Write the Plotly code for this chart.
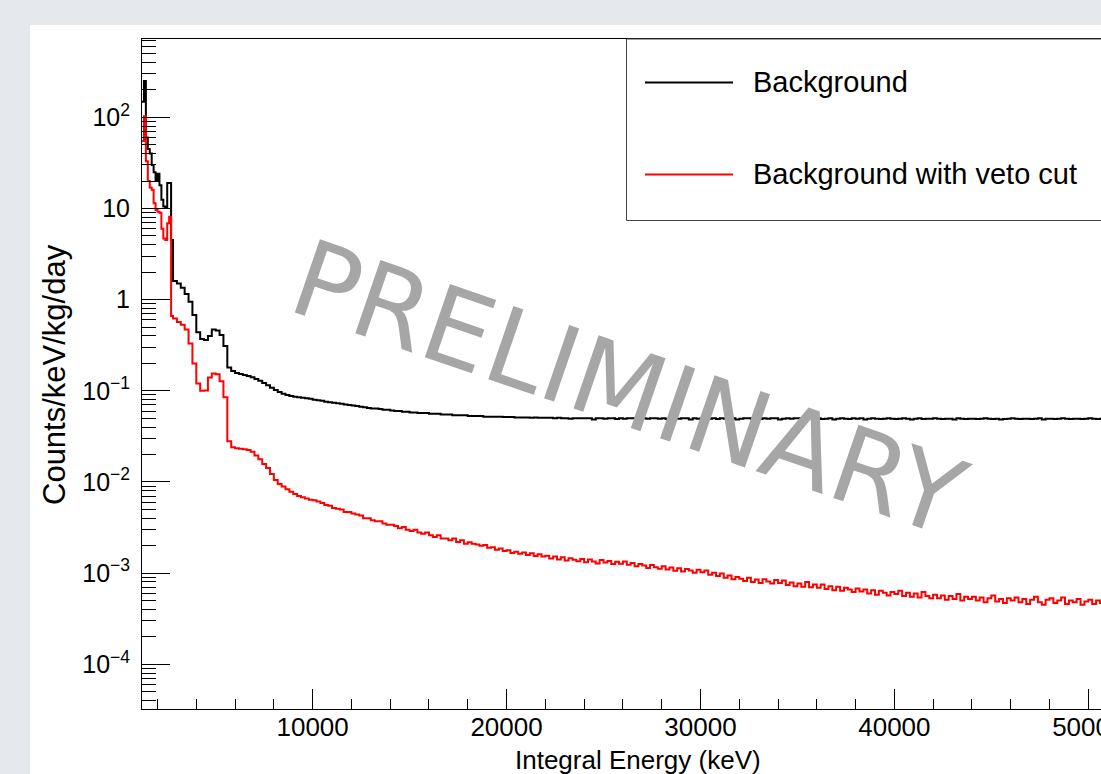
import plotly.graph_objects as go

# ---------------- histogram binning (keV, low edge of every bin) ----------------
fine_edges = list(range(1200, 2800, 100))     # 100 keV bins
mid_edges = list(range(2800, 10000, 200))     # 200 keV bins
tail_edges = list(range(10000, 50800, 200))   # 200 keV bins
upper_edge = 50800

# ---------------- Background (counts/keV/kg/day) ----------------
bkg_fine = [148, 250, 60, 45, 40, 30, 25, 20, 24, 18, 12.5, 10.5, 10.4, 19, 19, 4.5]
bkg_mid = [1.6, 1.5, 1.35, 1.15, 0.95, 0.68, 0.44, 0.37, 0.36, 0.40,
           0.47, 0.46, 0.41, 0.31, 0.18, 0.165, 0.157, 0.153, 0.149, 0.145,
           0.141, 0.135, 0.129, 0.122, 0.115, 0.108, 0.102, 0.097, 0.093, 0.090,
           0.088, 0.086, 0.085, 0.084, 0.083, 0.082]
bkg_tail = [0.080, 0.079, 0.078, 0.076, 0.075, 0.074, 0.073, 0.072, 0.071, 0.070,
            0.069, 0.068, 0.067, 0.066, 0.065, 0.064, 0.064, 0.063, 0.062, 0.062,
            0.061, 0.060, 0.060, 0.059, 0.059, 0.058, 0.058, 0.057, 0.057, 0.057,
            0.056, 0.056, 0.056, 0.055, 0.055, 0.055, 0.054, 0.054, 0.054, 0.054,
            0.053, 0.053, 0.053, 0.053, 0.052, 0.052, 0.052, 0.052, 0.052, 0.0515,
            0.0515, 0.0515, 0.051, 0.051, 0.051, 0.051, 0.0505, 0.051, 0.0505, 0.0505,
            0.0505, 0.0505, 0.050, 0.0505, 0.050, 0.050, 0.0495, 0.050, 0.050, 0.050,
            0.050, 0.050, 0.0485, 0.050, 0.050, 0.0495, 0.050, 0.050, 0.049, 0.050,
            0.0495, 0.050, 0.050, 0.050, 0.0485, 0.050, 0.0495, 0.050, 0.050, 0.0495,
            0.050, 0.049, 0.050, 0.050, 0.0495, 0.050, 0.050, 0.0485, 0.050, 0.0495,
            0.050, 0.050, 0.0495, 0.050, 0.049, 0.050, 0.0495, 0.050, 0.050, 0.0485,
            0.0495, 0.050, 0.050, 0.0495, 0.050, 0.049, 0.050, 0.0495, 0.050, 0.050,
            0.0485, 0.0495, 0.050, 0.0495, 0.050, 0.050, 0.049, 0.0495, 0.050, 0.0495,
            0.050, 0.049, 0.0495, 0.050, 0.0485, 0.0495, 0.050, 0.0495, 0.049, 0.050,
            0.0495, 0.050, 0.0485, 0.0495, 0.050, 0.0495, 0.049, 0.0495, 0.050, 0.0495,
            0.049, 0.0495, 0.050, 0.0495, 0.0485, 0.0495, 0.050, 0.049, 0.0495, 0.0495,
            0.050, 0.0495, 0.049, 0.0495, 0.0495, 0.0485, 0.050, 0.0495, 0.049, 0.0495,
            0.0495, 0.049, 0.0495, 0.050, 0.0495, 0.049, 0.0495, 0.0485, 0.049, 0.0495,
            0.050, 0.0495, 0.049, 0.0495, 0.0495, 0.049, 0.0495, 0.050, 0.0485, 0.0495,
            0.0495, 0.049, 0.0495, 0.050, 0.0495, 0.049, 0.0495, 0.0495, 0.049, 0.0495,
            0.050, 0.0495, 0.049, 0.0495]

# ---------------- Background with veto cut ----------------
veto_fine = [55, 103, 33, 20, 17, 16, 11.4, 9.6, 9.2, 9.0, 6.0, 4.7, 4.5, 6.9, 8.1, 0.66]
veto_mid = [0.62, 0.57, 0.53, 0.47, 0.33, 0.20, 0.12, 0.10, 0.101, 0.14,
            0.155, 0.152, 0.127, 0.085, 0.028, 0.024, 0.0235, 0.0232, 0.0228, 0.0225,
            0.0215, 0.0195, 0.0178, 0.0158, 0.0142, 0.0122, 0.0105, 0.0095, 0.0089, 0.0083,
            0.0078, 0.0074, 0.0070, 0.0068, 0.0066, 0.0064]
veto_tail = [0.0063, 0.0061, 0.0059, 0.0056, 0.0055, 0.0052, 0.0051, 0.0050, 0.0047, 0.0047,
             0.0045, 0.0044, 0.0043, 0.0040, 0.0040, 0.0038, 0.0037, 0.0037, 0.0035, 0.0034,
             0.0034, 0.0033, 0.0031, 0.0032, 0.0030, 0.0029, 0.0030, 0.0028, 0.0027, 0.0028,
             0.0026, 0.0025, 0.0026, 0.0024, 0.0024, 0.0023, 0.0024, 0.0022, 0.0023, 0.0021,
             0.00218, 0.0021, 0.00206, 0.0020, 0.00203, 0.0019, 0.00192, 0.00181, 0.00186, 0.00175,
             0.00178, 0.00166, 0.00172, 0.00163, 0.00169, 0.00158, 0.00165, 0.00154, 0.00161, 0.00152,
             0.00155, 0.00145, 0.00152, 0.00141, 0.00149, 0.00138, 0.00146, 0.00140, 0.00135, 0.00143,
             0.00132, 0.00141, 0.00134, 0.00128, 0.00139, 0.00131, 0.00136, 0.00126, 0.00133, 0.00127,
             0.00134, 0.00124, 0.00129, 0.00119, 0.00126, 0.00121, 0.00114, 0.00123, 0.00116, 0.00112,
             0.00119, 0.00110, 0.00115, 0.00106, 0.00113, 0.00104, 0.00111, 0.00107, 0.00101, 0.00109,
             0.00102, 0.00107, 0.00096, 0.00101, 0.00093, 0.00099, 0.00089, 0.00094, 0.00086, 0.00091,
             0.00087, 0.00082, 0.00089, 0.00080, 0.00085, 0.00078, 0.00086, 0.00081, 0.00077, 0.00084,
             0.00078, 0.00083, 0.00074, 0.00079, 0.00072, 0.00077, 0.00071, 0.00080, 0.00070, 0.00075,
             0.00069, 0.00075, 0.00067, 0.00072, 0.00065, 0.00071, 0.00064, 0.00069, 0.00066, 0.00062,
             0.00068, 0.00063, 0.00066, 0.00060, 0.00065, 0.00058, 0.00064, 0.00061, 0.00057, 0.00062,
             0.00059, 0.00064, 0.00056, 0.00061, 0.00055, 0.00060, 0.00054, 0.00062, 0.00056, 0.00053,
             0.00058, 0.00053, 0.00057, 0.00051, 0.00056, 0.00052, 0.00059, 0.00050, 0.00055, 0.00052,
             0.00055, 0.00050, 0.00054, 0.00048, 0.00053, 0.00057, 0.00049, 0.00052, 0.00047, 0.00053,
             0.00050, 0.00054, 0.00048, 0.00052, 0.00046, 0.00051, 0.00055, 0.00048, 0.00045, 0.00051,
             0.00053, 0.00047, 0.00050, 0.00054, 0.00046, 0.00050, 0.00048, 0.00052, 0.00045, 0.00049,
             0.00051, 0.00046, 0.00050, 0.00047]

# ---------------- axis ticks ----------------
x_tick_vals = [10000, 20000, 30000, 40000, 50000]
x_tick_text = ["10000", "20000", "30000", "40000", "50000"]
y_tick_vals = [1e-4, 1e-3, 1e-2, 1e-1, 1, 10, 100]
y_tick_text = ["10<sup>\u22124</sup>", "10<sup>\u22123</sup>", "10<sup>\u22122</sup>",
               "10<sup>\u22121</sup>", "1", "10", "10<sup>2</sup>"]
y_minor_vals = [m * 10.0 ** d for d in range(-5, 3) for m in range(2, 10)]

X_RANGE = [1200, 50655]
Y_RANGE = [-4.49, 2.859]

# plot-area geometry in pixels
FIG_W, FIG_H = 1101, 774
M_L, M_T, M_B = 142, 39, 65
PLOT_W = FIG_W - M_L
PLOT_H = FIG_H - M_T - M_B


def px(xp):
    return (xp - M_L) / PLOT_W


def py(yp):
    return (M_T + PLOT_H - yp) / PLOT_H


def step(edges, vals):
    xs = list(edges) + [upper_edge]
    ys = list(vals) + [vals[-1]]
    return xs, ys


edges = fine_edges + mid_edges + tail_edges
bx, by = step(edges, bkg_fine + bkg_mid + bkg_tail)
vx, vy = step(edges, veto_fine + veto_mid + veto_tail)

FONT = "Liberation Sans, Arial, Helvetica, sans-serif"

fig = go.Figure()
fig.add_trace(go.Scatter(x=bx, y=by, mode="lines", name="Background",
                         line=dict(color="black", width=2, shape="hv")))
fig.add_trace(go.Scatter(x=vx, y=vy, mode="lines", name="Background with veto cut",
                         line=dict(color="#ff0000", width=2, shape="hv")))

fig.update_layout(
    width=FIG_W, height=FIG_H,
    margin=dict(l=M_L, r=0, t=M_T, b=M_B, pad=0, autoexpand=False),
    paper_bgcolor="#e5e9ee",
    plot_bgcolor="white",
    showlegend=False,
    font=dict(family=FONT, color="black"),
    xaxis=dict(
        range=X_RANGE, showgrid=False, zeroline=False, automargin=False,
        showline=True, linecolor="black", linewidth=1, mirror=True,
        ticks="inside", ticklen=20, tickwidth=1, tickcolor="black",
        tickmode="array", tickvals=x_tick_vals, ticktext=x_tick_text,
        tickfont=dict(size=26, family=FONT, color="black"),
        ticklabelstandoff=-5, ticklabeloverflow="allow",
        minor=dict(ticks="inside", ticklen=10, tickwidth=1, tickcolor="black",
                   dtick=2000, tick0=0, showgrid=False),
    ),
    yaxis=dict(
        type="log", range=Y_RANGE, showgrid=False, zeroline=False, automargin=False,
        showline=True, linecolor="black", linewidth=1,
        ticks="inside", ticklen=28, tickwidth=1, tickcolor="black",
        tickmode="array", tickvals=y_tick_vals, ticktext=y_tick_text,
        tickfont=dict(size=25, family=FONT, color="black"),
        ticklabelstandoff=6,
        minor=dict(ticks="inside", ticklen=14, tickwidth=1, tickcolor="black",
                   tickmode="array", tickvals=y_minor_vals, showgrid=False),
    ),
)

shapes = [
    # white canvas panel
    dict(type="rect", xref="paper", yref="paper", layer="below",
         x0=px(30), x1=px(1120), y0=py(790), y1=py(25),
         fillcolor="white", line=dict(width=0)),
    # legend frame
    dict(type="rect", xref="paper", yref="paper",
         x0=px(626.5), x1=px(1130), y0=py(220.5), y1=py(39),
         fillcolor="white", line=dict(color="#444444", width=1)),
    dict(type="line", xref="paper", yref="paper",
         x0=px(645), x1=px(733), y0=py(82.5), y1=py(82.5),
         line=dict(color="black", width=2)),
    dict(type="line", xref="paper", yref="paper",
         x0=px(645), x1=px(733), y0=py(174.5), y1=py(174.5),
         line=dict(color="#ff0000", width=2)),
]
fig.update_layout(shapes=shapes)

annotations = [
    dict(text="Background", x=px(751), y=py(82), xref="paper", yref="paper",
         xanchor="left", yanchor="middle", showarrow=False,
         font=dict(size=29, family=FONT, color="black")),
    dict(text="Background with veto cut", x=px(751), y=py(174), xref="paper", yref="paper",
         xanchor="left", yanchor="middle", showarrow=False,
         font=dict(size=29, family=FONT, color="black")),
    dict(text="Integral Energy (keV)", x=px(763), y=py(760), xref="paper", yref="paper",
         xanchor="right", yanchor="middle", showarrow=False,
         font=dict(size=26, family=FONT, color="black")),
    dict(text="Counts/keV/kg/day", x=px(54), y=py(375), xref="paper", yref="paper",
         xanchor="center", yanchor="middle", textangle=-90, showarrow=False,
         font=dict(size=31, family=FONT, color="black")),
    dict(text="PRELIMINARY", x=px(628), y=py(388), xref="paper", yref="paper",
         xanchor="center", yanchor="middle", textangle=19, showarrow=False,
         font=dict(size=106, family="DejaVu Sans, sans-serif", color="#a6a6a6")),
]
fig.update_layout(annotations=annotations)

fig.write_html("out.html")
